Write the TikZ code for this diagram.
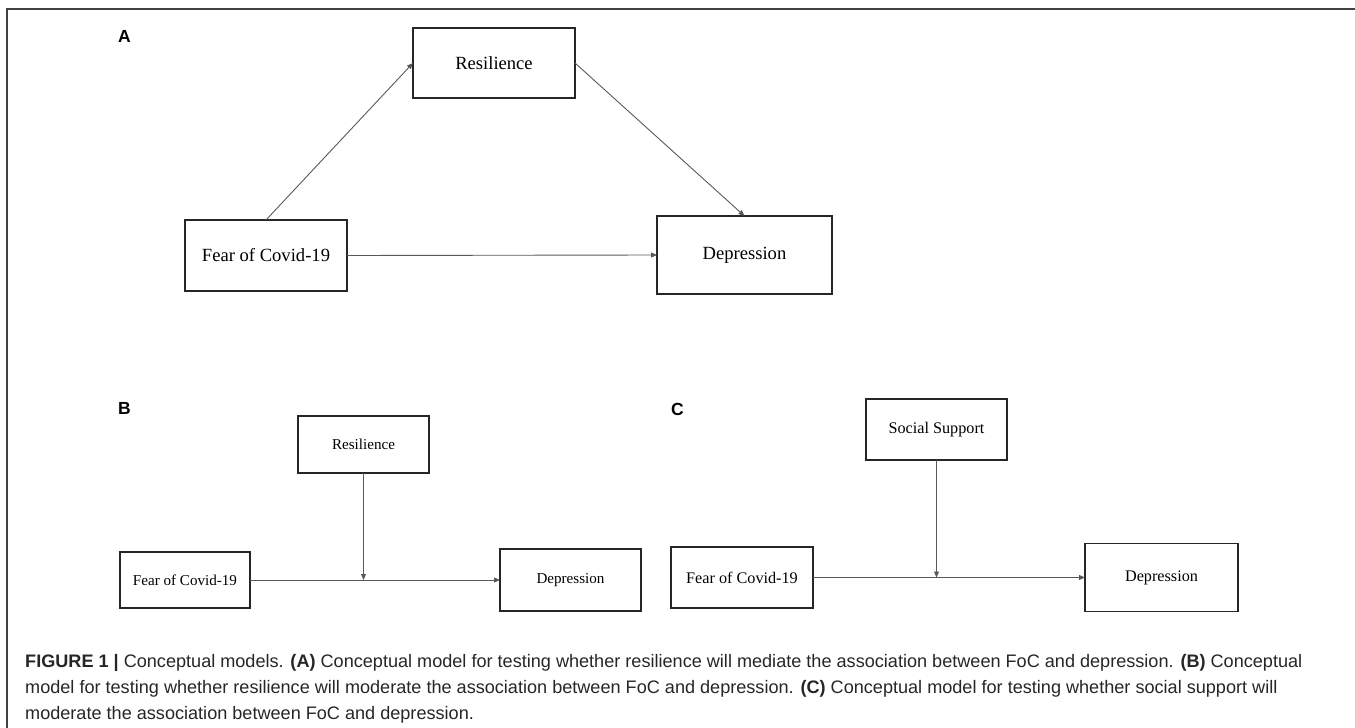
\documentclass[tikz,border=0pt]{standalone}
\usepackage{fontspec}
\setmainfont{Liberation Serif}
\newfontfamily\capfont{Liberation Sans}
\usetikzlibrary{arrows.meta}
\tikzset{
  box/.style={draw=black!85, line width=1.3pt, rectangle, inner sep=0pt, outer sep=0pt, align=center, text=black},
  fa/.style={font=\fontsize{18.6}{22}\selectfont},
  fb/.style={font=\fontsize{15.1}{18}\selectfont},
  fc/.style={font=\fontsize{16.2}{19}\selectfont},
  conn/.style={draw=black!65, line width=0.9pt, -{Triangle[length=6pt,width=5pt]}},
  panel/.style={font=\capfont\bfseries\fontsize{17.5}{20}\selectfont, anchor=base west, inner sep=0pt, text=black},
  capline/.style={font=\capfont\fontsize{18.1}{22}\selectfont, anchor=base west, inner sep=0pt, text=black!85},
  frame/.style={draw=black!75, line width=1.6pt}
}
\begin{document}
\begin{tikzpicture}[x=1pt,y=-1pt]
\useasboundingbox (0,0) rectangle (1355,728);
% frame
\coordinate (fbl) at (7,728);
\coordinate (ftl) at (7,9);
\coordinate (ftr) at (1355,9);
\draw[frame] (fbl) -- (ftl) -- (ftr);

% panel A
\node[panel] (labA) at (118,42) {A};
\node[box, fa, minimum width=162pt, minimum height=70pt] (resA) at (494,63) {Resilience};
\node[box, fa, minimum width=162pt, minimum height=71pt] (fearA) at (266,255.5) {Fear of Covid-19};
\node[box, fa, minimum width=175pt, minimum height=78pt] (depA) at (744.5,255) {Depression};
\draw[conn] (fearA.north) -- (resA.west);
\draw[conn] (resA.east) -- (depA.north);
\draw[conn] (fearA.east) -- (depA.west);

% panel B
\node[panel] (labB) at (118,414) {B};
\node[box, fb, minimum width=131pt, minimum height=57pt] (resB) at (363.5,444.5) {Resilience};
\node[box, fb, minimum width=130pt, minimum height=56pt] (fearB) at (185,580) {Fear of Covid-19};
\node[box, fb, minimum width=141pt, minimum height=62pt] (depB) at (570.5,580) {Depression};
\coordinate (mB) at (resB.south |- fearB.east);
\draw[conn] (fearB.east) -- (depB.west);
\draw[conn] (resB.south) -- (mB);

% panel C
\node[panel] (labC) at (671,415) {C};
\node[box, fc, minimum width=141pt, minimum height=61pt] (ssC) at (936.5,429.5) {Social Support};
\node[box, fc, minimum width=142pt, minimum height=61pt] (fearC) at (742,577.5) {Fear of Covid-19};
\node[box, fc, minimum width=153pt, minimum height=68pt] (depC) at (1161.5,577.5) {Depression};
\coordinate (mC) at (ssC.south |- fearC.east);
\draw[conn] (fearC.east) -- (depC.west);
\draw[conn] (ssC.south) -- (mC);

% caption
\node[capline] (cap1) at (25,667) {\textbf{FIGURE 1 |} Conceptual models. \textbf{(A)} Conceptual model for testing whether resilience will mediate the association between FoC and depression. \textbf{(B)} Conceptual};
\node[capline] (cap2) at (25,693) {model for testing whether resilience will moderate the association between FoC and depression. \textbf{(C)} Conceptual model for testing whether social support will};
\node[capline] (cap3) at (25,719) {moderate the association between FoC and depression.};
\end{tikzpicture}
\end{document}
